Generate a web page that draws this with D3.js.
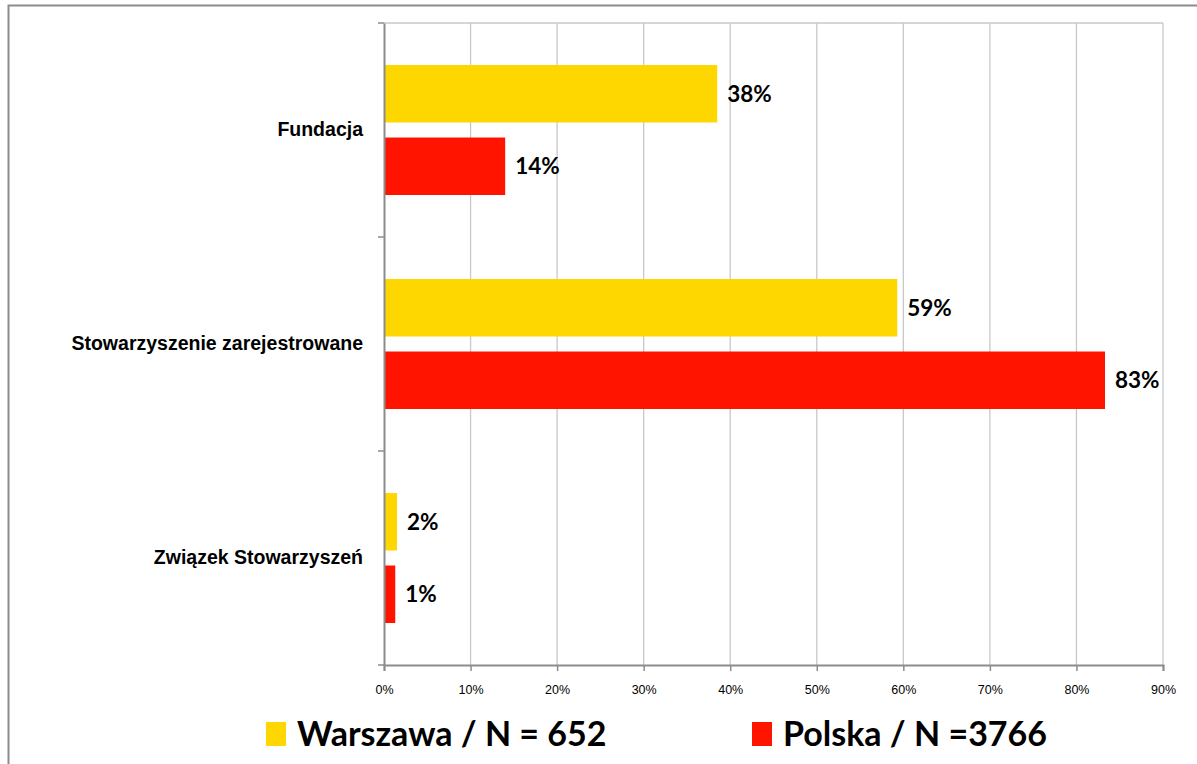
<!DOCTYPE html>
<html>
<head>
<meta charset="utf-8">
<script src="https://cdn.jsdelivr.net/npm/d3@7"></script>
<style>
  body { margin: 0; background: #fff; }
  svg { display: block; font-family: Lato, "Open Sans", sans-serif; }
</style>
</head>
<body>
<svg id="chart" width="1197" height="764"></svg>
<script>
// data
var categories = ["Fundacja", "Stowarzyszenie zarejestrowane", "Związek Stowarzyszeń"];
var seriesNames = ["Warszawa / N = 652", "Polska / N =3766"];
var warszawa = [38.5, 59.3, 1.5];
var polska = [14.0, 83.3, 1.3];
var valueLabels = [["38%", "59%", "2%"], ["14%", "83%", "1%"]];
var ticks = [0, 10, 20, 30, 40, 50, 60, 70, 80, 90];
var colors = ["#ffd700", "#ff1400"];

var svg = d3.select("#chart");
var margin = {top: 23, left: 384, right: 34, bottom: 99};
var width = 1197 - margin.left - margin.right;
var height = 764 - margin.top - margin.bottom;

// outer frame
svg.append("path")
    .attr("d", "M8.5,764 L8.5,5.5 L1197,5.5")
    .attr("fill", "none").attr("stroke", "#8c8c8c").attr("stroke-width", 2);

var g = svg.append("g").attr("transform", "translate(" + margin.left + "," + margin.top + ")");

var x = d3.scaleLinear().domain([0, 90]).range([0, width]);
var y = d3.scaleBand().domain(categories).range([0, height]);
var inner = d3.scaleBand().domain([0, 1]).range([42, y.bandwidth() - 42]).paddingInner(0.207);

// gridlines
g.selectAll(".grid").data(ticks.slice(1)).enter().append("line")
    .attr("x1", function(d) { return x(d); }).attr("x2", function(d) { return x(d); })
    .attr("y1", 0).attr("y2", height)
    .attr("stroke", "#c8c8c8").attr("stroke-width", 1.3);
g.append("line").attr("x1", 0).attr("x2", width).attr("y1", 0).attr("y2", 0)
    .attr("stroke", "#c8c8c8").attr("stroke-width", 1.3);

// bars
var data = [warszawa, polska];
data.forEach(function(values, s) {
    g.selectAll(".bar" + s).data(values).enter().append("rect")
        .attr("x", 0)
        .attr("y", function(d, i) { return y(categories[i]) + inner(s); })
        .attr("width", function(d) { return x(d); })
        .attr("height", inner.bandwidth())
        .attr("fill", colors[s]);
    g.selectAll(".lab" + s).data(values).enter().append("text")
        .attr("x", function(d) { return x(d) + 10; })
        .attr("y", function(d, i) { return y(categories[i]) + inner(s) + inner.bandwidth() / 2; })
        .attr("dy", "0.35em")
        .attr("font-size", 22.5).attr("font-weight", "bold")
        .text(function(d, i) { return valueLabels[s][i]; });
});

// x axis
var xAxis = g.append("g").attr("transform", "translate(0," + height + ")")
    .call(d3.axisBottom(x).tickValues(ticks).tickSize(6).tickFormat(function(d) { return d + "%"; }));
xAxis.select(".domain").attr("stroke", "#8c8c8c").attr("stroke-width", 2);
xAxis.selectAll(".tick line").attr("stroke", "#8c8c8c").attr("stroke-width", 1.5);
xAxis.selectAll("text").attr("font-size", 12.5).attr("dy", "1.6em").attr("fill", "#000");

// y axis
var yAxis = g.append("g")
    .call(d3.axisLeft(y).tickSize(0).tickPadding(21));
yAxis.select(".domain").attr("stroke", "#8c8c8c").attr("stroke-width", 2);
yAxis.selectAll("text").attr("font-size", 19.5).attr("font-weight", "bold").attr("fill", "#000");
g.selectAll(".sep").data([0].concat(categories.map(function(c) { return y(c) + y.bandwidth(); })))
    .enter().append("line")
    .attr("x1", -6).attr("x2", 0)
    .attr("y1", function(d) { return d; }).attr("y2", function(d) { return d; })
    .attr("stroke", "#8c8c8c").attr("stroke-width", 1.5);

// legend
var legendX = [266, 752];
seriesNames.forEach(function(name, s) {
    var lg = svg.append("g").attr("transform", "translate(" + legendX[s] + ",722)");
    lg.append("rect").attr("width", 20).attr("height", 24).attr("fill", colors[s]);
    lg.append("text").attr("x", 31).attr("y", 12).attr("dy", "0.36em")
        .attr("font-size", 34).attr("font-weight", "bold").text(name);
});
</script>
</body>
</html>
